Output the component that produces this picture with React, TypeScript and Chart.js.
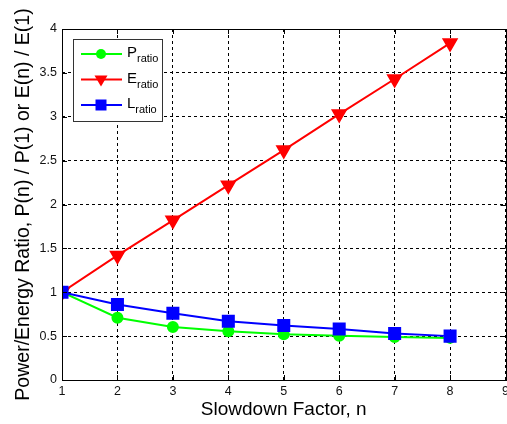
import React, { useEffect, useRef } from "react";
import { Chart, registerables } from "chart.js";

Chart.register(...registerables);

const nValues = [1, 2, 3, 4, 5, 6, 7, 8];
const pRatio = [1, 0.71, 0.605, 0.555, 0.52, 0.505, 0.49, 0.48];
const eRatio = [1, 1.42, 1.82, 2.22, 2.62, 3.03, 3.43, 3.84];
const lRatio = [1, 0.86, 0.76, 0.67, 0.62, 0.58, 0.53, 0.5];

const seriesNames = ["P", "E", "L"];
const seriesSub = "ratio";
const seriesColors = ["#00ff00", "#ff0000", "#0000ff"];

const xTitle = "Slowdown Factor, n";
const yTitle = "Power/Energy Ratio, P(n) / P(1) or E(n) / E(1)";

const FONT = "'Liberation Sans', Arial, sans-serif";

function toPoints(ys: number[]) {
  return nValues.map((x, i) => ({ x, y: ys[i] }));
}

const framePlugin = {
  id: "frameAndLegend",
  afterDraw(chart: any) {
    const { ctx, chartArea } = chart;
    const { left, right, top, bottom } = chartArea;
    ctx.save();
    // border
    ctx.setLineDash([]);
    ctx.strokeStyle = "#000";
    ctx.lineWidth = 1;
    ctx.strokeRect(Math.round(left) + 0.5, Math.round(top) + 0.5, Math.round(right - left), Math.round(bottom - top));
    // inward ticks
    const xs = chart.scales.x;
    const ys = chart.scales.y;
    const tl = 5;
    ctx.beginPath();
    xs.ticks.forEach((t: any) => {
      const px = Math.round(xs.getPixelForValue(t.value)) + 0.5;
      ctx.moveTo(px, bottom);
      ctx.lineTo(px, bottom - tl);
      ctx.moveTo(px, top);
      ctx.lineTo(px, top + tl);
    });
    ys.ticks.forEach((t: any) => {
      const py = Math.round(ys.getPixelForValue(t.value)) + 0.5;
      ctx.moveTo(left, py);
      ctx.lineTo(left + tl, py);
      ctx.moveTo(right, py);
      ctx.lineTo(right - tl, py);
    });
    ctx.stroke();

    // legend
    const bx = 73, by = 39, bw = 89, bh = 82;
    ctx.fillStyle = "#fff";
    ctx.fillRect(bx, by, bw, bh);
    ctx.strokeStyle = "#333";
    ctx.strokeRect(bx + 0.5, by + 0.5, bw, bh);
    const rows = [54, 79.5, 105];
    rows.forEach((ry, i) => {
      const c = seriesColors[i];
      ctx.strokeStyle = c;
      ctx.lineWidth = 2;
      ctx.beginPath();
      ctx.moveTo(81, ry);
      ctx.lineTo(122, ry);
      ctx.stroke();
      ctx.fillStyle = c;
      ctx.beginPath();
      if (i === 0) {
        ctx.arc(101, ry, 5, 0, Math.PI * 2);
      } else if (i === 1) {
        ctx.moveTo(94.5, ry - 4);
        ctx.lineTo(107.5, ry - 4);
        ctx.lineTo(101, ry + 7);
        ctx.closePath();
      } else {
        ctx.rect(95.5, ry - 5.5, 11, 11);
      }
      ctx.fill();
      ctx.fillStyle = "#000";
      ctx.textAlign = "left";
      ctx.textBaseline = "alphabetic";
      ctx.font = "15px " + FONT;
      ctx.fillText(seriesNames[i], 127, ry + 3);
      const w = ctx.measureText(seriesNames[i]).width;
      ctx.font = "11px " + FONT;
      ctx.fillText(seriesSub, 127 + w, ry + 8);
    });
    ctx.restore();
  },
};

export default function App() {
  const ref = useRef<HTMLCanvasElement | null>(null);
  useEffect(() => {
    if (!ref.current) return;
    const chart = new Chart(ref.current, {
      type: "line",
      data: {
        datasets: [
          {
            label: "Pratio",
            data: toPoints(pRatio),
            borderColor: seriesColors[0],
            backgroundColor: seriesColors[0],
            pointStyle: "circle",
            pointRadius: 5,
            borderWidth: 2,
            order: 3,
          },
          {
            label: "Eratio",
            data: toPoints(eRatio),
            borderColor: seriesColors[1],
            backgroundColor: seriesColors[1],
            pointStyle: "triangle",
            pointRotation: 180,
            pointRadius: 7.5,
            borderWidth: 2,
            order: 2,
          },
          {
            label: "Lratio",
            data: toPoints(lRatio),
            borderColor: seriesColors[2],
            backgroundColor: seriesColors[2],
            pointStyle: "rect",
            pointRadius: 7.8,
            borderWidth: 2,
            order: 1,
          },
        ],
      },
      options: {
        animation: false,
        responsive: false,
        maintainAspectRatio: false,
        layout: { autoPadding: false, padding: { top: 29, right: 0, left: 0, bottom: 0 } },
        plugins: { legend: { display: false }, tooltip: { enabled: false } },
        elements: { line: { tension: 0 }, point: { borderWidth: 0 } },
        scales: {
          x: {
            type: "linear",
            min: 1,
            max: 9,
            ticks: { stepSize: 1, color: "#111", font: { family: FONT, size: 12.5 }, padding: 4, maxRotation: 0 },
            grid: { color: "#000", lineWidth: 1, drawTicks: false },
            border: { display: false, dash: [3, 3] },
            title: { display: true, text: xTitle, color: "#000", font: { family: FONT, size: 19 }, padding: { top: 0, bottom: 3 } },
            afterFit(scale: any) {
              scale.height = 44;
            },
          },
          y: {
            type: "linear",
            min: 0,
            max: 4,
            ticks: {
              stepSize: 0.5,
              color: "#111",
              font: { family: FONT, size: 12.5 },
              padding: 5,
              callback: (v: any) => String(v),
            },
            grid: { color: "#000", lineWidth: 1, drawTicks: false },
            border: { display: false, dash: [3, 3] },
            title: { display: true, text: yTitle, color: "#000", font: { family: FONT, size: 19.5 }, padding: { top: 12, bottom: 0 } },
            afterFit(scale: any) {
              scale.width = 62;
            },
          },
        },
      },
      plugins: [framePlugin],
    });
    return () => chart.destroy();
  }, []);
  return (
    <div style={{ position: "fixed", left: 0, top: 0, width: 507, height: 424, overflow: "hidden", background: "#fff" }}>
      <canvas ref={ref} width={513} height={424} style={{ width: 513, height: 424, display: "block" }} />
    </div>
  );
}
